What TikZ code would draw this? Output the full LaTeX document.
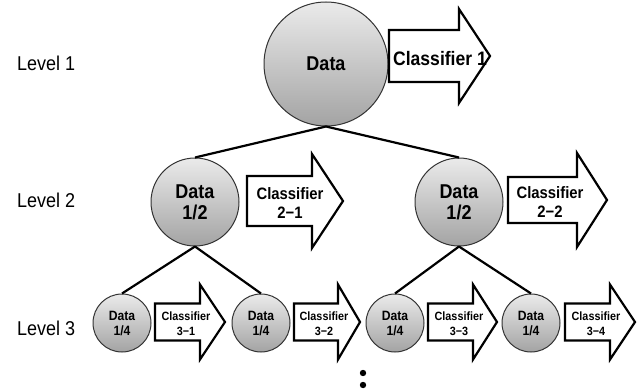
\documentclass[tikz,border=0pt]{standalone}
\usepackage{fontspec}
\setmainfont[FakeStretch=0.9]{Liberation Sans}
\begin{document}
\begin{tikzpicture}[x=1pt,y=-1pt,
  datanode/.style={circle,draw=black!80,line width=1pt,top color=black!8,bottom color=black!36,inner sep=0pt,align=center,font=\bfseries},
  lvlA/.style={datanode,minimum size=124pt,font=\bfseries\fontsize{20}{22}\selectfont},
  lvlB/.style={datanode,minimum size=88pt,font=\bfseries\fontsize{20}{21}\selectfont},
  lvlC/.style={datanode,minimum size=58pt,font=\bfseries\fontsize{13.5}{15}\selectfont},
  clsarrow/.style={draw=black,line width=2.2pt,fill=white,line join=miter},
  clstext/.style={inner sep=0pt,align=center},
  edge/.style={line width=2.2pt,black},
  lvltext/.style={anchor=base west,inner sep=0pt,font=\fontsize{20}{22}\selectfont}
]
\useasboundingbox (0,0) rectangle (644,390);

% level labels
\node[lvltext] (L1) at (17,71) {Level 1};
\node[lvltext] (L2) at (17,207) {Level 2};
\node[lvltext] (L3) at (17,335) {Level 3};

% data nodes
\node[lvlA] (d) at (326,64) {Data};
\node[lvlB] (d1) at (195,202) {Data\\1/2};
\node[lvlB] (d2) at (459,202) {Data\\1/2};
\node[lvlC] (d11) at (122,323) {Data\\1/4};
\node[lvlC] (d12) at (261,323) {Data\\1/4};
\node[lvlC] (d21) at (395,323) {Data\\1/4};
\node[lvlC] (d22) at (531,323) {Data\\1/4};

% edges
\draw[edge] (d.south) -- (d1.north);
\draw[edge] (d.south) -- (d2.north);
\draw[edge] (d1.south) -- (d11.north);
\draw[edge] (d1.south) -- (d12.north);
\draw[edge] (d2.south) -- (d21.north);
\draw[edge] (d2.south) -- (d22.north);

% arrows: body left x0, head start x1, tip x2, centre y, body half h, head half h
\newcommand\clsarr[6]{%
  \draw[clsarrow] (#1,#4-#5) -- (#2,#4-#5) -- (#2,#4-#6) -- (#3,#4) -- (#2,#4+#6) -- (#2,#4+#5) -- (#1,#4+#5) -- cycle;}
\clsarr{389}{459}{490}{56}{26}{47}
\clsarr{247}{312}{343}{201}{25}{47}
\clsarr{508}{577}{607}{200}{23}{47}
\clsarr{155}{200}{225}{322}{18.5}{37.5}
\clsarr{294}{338}{360}{322}{18.5}{37.5}
\clsarr{428}{473}{497}{322}{18.5}{37.5}
\clsarr{565}{610}{635}{322}{18.5}{37.5}

\node[clstext,font=\bfseries\fontsize{19.5}{22}\selectfont] (c1) at (440,59) {Classifier 1};
\node[clstext,font=\bfseries\fontsize{16.5}{19}\selectfont] (c21) at (290,203) {Classifier\\2−1};
\node[clstext,font=\bfseries\fontsize{16.5}{19}\selectfont] (c22) at (550,202) {Classifier\\2−2};
\node[clstext,font=\bfseries\fontsize{12}{15}\selectfont] (c31) at (186,324) {Classifier\\3−1};
\node[clstext,font=\bfseries\fontsize{12}{15}\selectfont] (c32) at (324,324) {Classifier\\3−2};
\node[clstext,font=\bfseries\fontsize{12}{15}\selectfont] (c33) at (459,324) {Classifier\\3−3};
\node[clstext,font=\bfseries\fontsize{12}{15}\selectfont] (c34) at (596,324) {Classifier\\3−4};

% continuation dots
\fill (363,373) circle (3.2);
\fill (363,385) circle (3.2);
\end{tikzpicture}
\end{document}
